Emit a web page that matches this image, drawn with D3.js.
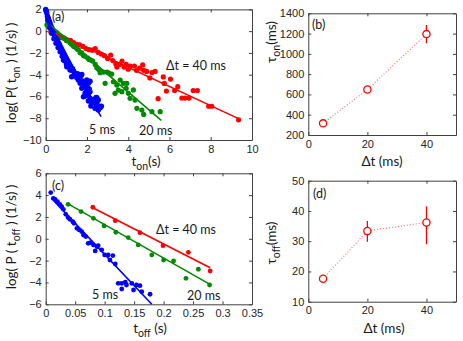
<!DOCTYPE html>
<html>
<head>
<meta charset="utf-8">
<script src="https://cdn.jsdelivr.net/npm/d3@7"></script>
<style>
  body { margin: 0; background: #fff; }
  svg { display: block; font-family: Lato, "Open Sans", sans-serif; }
  .tick text { font-size: 11px; fill: #262626; }
  .tick line, .domain { stroke: #404040; }
</style>
</head>
<body>
<div id="chart"></div>
<script>
// (a) log P(t_on) vs t_on (s)
var on5 = [[0,2],[0.02,1.85],[0.05,1.7],[0.08,1.4],[0.1,1.0],[0.13,1.2],[0.17,0.95],[0.2,0.3],[0.21,0.76],[0.25,0.5],
  [0.29,0.3],[0.3,-0.2],[0.33,0.05],[0.37,-0.15],[0.4,-0.7],[0.41,-0.3],[0.45,-0.46],[0.49,-0.6],[0.5,-1.1],[0.53,-0.76],
  [0.57,-0.9],[0.6,-1.5],[0.62,-1.07],[0.66,-1.2],[0.7,-1.38],[0.7,-1.9],[0.74,-1.55],[0.78,-1.68],[0.8,-2.3],[0.82,-1.85],
  [0.86,-1.99],[0.86,-2.65],[0.9,-2.15],[0.9,-2.7],[0.94,-2.29],[0.98,-2.45],[1.0,-3.0],[1.02,-2.6],[1.02,-3.27],[1.06,-2.75],
  [1.1,-2.9],[1.1,-3.3],[1.14,-3.05],[1.18,-3.21],[1.18,-3.57],[1.22,-3.35],[1.26,-3.58],[1.26,-4.19],[1.3,-3.45],[1.35,-3.67],
  [1.39,-3.85],[1.42,-4.03],[1.47,-4.1],[1.51,-4.28],[1.55,-3.9],[1.58,-4.49],[1.63,-4.3],[1.67,-4.43],[1.67,-4.79],[1.71,-4.1],
  [1.75,-3.98],[1.75,-5.25],[1.79,-4.6],[1.83,-4.65],[1.83,-6.02],[1.87,-5.0],[1.91,-4.89],[1.91,-5.71],[1.91,-5.96],[1.95,-5.1],
  [1.99,-4.49],[1.99,-5.41],[2.03,-4.6],[2.03,-5.2],[2.07,-4.79],[2.07,-5.5],[2.07,-5.87],[2.07,-6.42],[2.11,-5.3],[2.15,-4.6],
  [2.15,-5.56],[2.15,-6.17],[2.19,-6.88],[2.23,-6.63],[2.32,-6.27],[2.39,-6.48],[2.39,-7.09],[2.44,-6.1],[2.48,-6.12],[2.48,-6.57],
  [2.48,-6.94],[2.55,-6.33],[2.55,-7.25],[2.56,-6.88],[2.64,-7.03],[2.7,-6.9]];
var on20 = [[0.06,0.57],[0.1,0.6],[0.15,0.45],[0.21,0.61],[0.26,0.2],[0.3,0.3],[0.37,0],[0.42,-0.05],[0.5,-0.2],[0.55,-0.15],
  [0.62,-0.31],[0.7,-0.4],[0.78,-0.52],[0.85,-0.6],[0.94,-0.7],[1.0,-0.85],[1.08,-0.9],[1.18,-1.07],[1.25,-1.2],[1.35,-1.38],
  [1.42,-1.45],[1.51,-1.62],[1.58,-1.7],[1.67,-1.99],[1.75,-2.0],[1.83,-2.23],[1.9,-2.3],[2.03,-2.45],[2.1,-2.6],[2.19,-2.66],
  [2.28,-2.75],[2.4,-3.06],[2.48,-3.36],[2.56,-3.5],[2.64,-3.67],[2.64,-3.82],[2.8,-3.76],[2.88,-4.79],[2.97,-3.76],[3.05,-3.82],
  [3.2,-3.94],[3.28,-4.65],[3.36,-5.71],[3.45,-4.95],[3.52,-5.41],[3.61,-4.49],[3.69,-5.56],[3.77,-4.79],[3.9,-5.25],[3.93,-4.79],
  [4.01,-5.71],[4.09,-6.17],[4.25,-5.4],[4.33,-6.33],[4.42,-7.09],[4.66,-7.25],[4.75,-7.65],[5.15,-7.4],[5.55,-7.4]];
var on40 = [[0.25,-0.1],[0.3,-0.2],[0.45,-0.35],[0.6,-0.5],[0.75,-0.6],[0.9,-0.65],[1.05,-0.8],[1.2,-0.85],[1.35,-1.05],[1.5,-1.2],
  [1.65,-1.25],[1.8,-1.4],[1.95,-1.6],[2.1,-1.7],[2.25,-1.75],[2.4,-1.6],[2.55,-1.95],[2.7,-2.1],[2.85,-2.25],[3.0,-2.5],
  [3.15,-2.2],[3.25,-2.7],[3.4,-3.0],[3.45,-3.3],[3.6,-3.05],[3.7,-2.75],[3.8,-3.3],[3.9,-3.05],[4.0,-3.5],[4.1,-3.2],
  [4.3,-3.2],[4.4,-3.6],[4.55,-3.4],[4.7,-3.1],[4.75,-3.6],[4.9,-3.7],[5.05,-4.3],[5.15,-3.8],[5.3,-3.7],[5.45,-6.2],
  [5.7,-4.2],[5.75,-4.8],[5.85,-5.5],[6.05,-4.4],[6.25,-5.45],[6.4,-5.1],[6.6,-6.15],[6.75,-6.15],[6.95,-6.15],[7.15,-5.45],
  [7.35,-5.45],[7.9,-6.9],[8.05,-6.9],[9.35,-8.15]];
var fitOn5 = [[0,1.25],[2.68,-7.86]];
var fitOn20 = [[0.2,0.6],[5.6,-8.2]];
var fitOn40 = [[0.45,-0.2],[9.4,-8.08]];

// (c) log P(t_off) vs t_off (s)
var off5 = [[0.0085,4.23],[0.013,3.71],[0.016,3.62],[0.02,3.4],[0.024,3.16],[0.027,2.95],[0.03,2.7],[0.034,2.24],[0.038,1.94],
  [0.041,1.79],[0.046,1.57],[0.048,1.42],[0.053,0.96],[0.057,0.81],[0.061,0.66],[0.064,0.35],[0.068,0.2],[0.072,-0.41],
  [0.076,-0.35],[0.081,-0.56],[0.084,-1.11],[0.087,-0.72],[0.089,-0.63],[0.095,-1.02],[0.1,-1.48],[0.106,-1.48],[0.109,-1.94],
  [0.114,-1.54],[0.118,-2.31],[0.123,-4.08],[0.129,-4.08],[0.129,-4.6],[0.135,-3.98],[0.137,-4.23],[0.146,-4.08],[0.149,-4.69],
  [0.154,-4.23],[0.16,-4.29],[0.163,-4.84],[0.177,-5.08]];
var off20 = [[0.038,3.16],[0.06,2.49],[0.081,1.88],[0.099,1.18],[0.119,0.6],[0.14,0.11],[0.157,-0.56],[0.18,-1.48],
  [0.2,-1.94],[0.217,-2.03],[0.238,-3.62],[0.259,-2.79],[0.278,-4.23]];
var off40 = [[0.08,2.89],[0.118,1.66],[0.16,0.56],[0.199,-0.63],[0.242,-1.24],[0.279,-2.95]];
var fitOff5 = [[0.01,3.7],[0.18,-6.0]];
var fitOff20 = [[0.038,3.2],[0.278,-4.15]];
var fitOff40 = [[0.08,2.85],[0.279,-2.65]];

// (b), (d) time constants vs Δt (ms)
var dtValues = [5, 20, 40];
var tauOn = [315, 648, 1195];
var tauOnLo = [300, 630, 1105];
var tauOnHi = [330, 666, 1285];
var tauOff = [17.6, 33.4, 36.2];
var tauOffLo = [17.2, 29.8, 29.0];
var tauOffHi = [18.0, 36.7, 41.5];

var ticksA_x = [0, 2, 4, 6, 8, 10];
var ticksA_y = [-10, -8, -6, -4, -2, 0, 2];
var ticksC_x = [0, 0.05, 0.1, 0.15, 0.2, 0.25, 0.3, 0.35];
var ticksC_y = [-6, -4, -2, 0, 2, 4, 6];
var ticksB_y = [200, 400, 600, 800, 1000, 1200, 1400];
var ticksD_y = [10, 20, 30, 40, 50];
var ticksBD_x = [0, 20, 40];

var width = 463, height = 341;
var BLUE = '#0000ff', GREEN = '#008a00', RED = '#ff0000';

var svg = d3.select('#chart').append('svg')
    .attr('width', width)
    .attr('height', height);

function frame(x, y, xt, yt, xfmt, yfmt) {
    var g = svg.append('g');
    var r = x.range(), b = y.range();
    g.append('g').attr('transform', 'translate(0,' + b[0] + ')')
        .call(d3.axisBottom(x).tickValues(xt).tickSizeInner(-3).tickSizeOuter(0).tickPadding(5).tickFormat(xfmt));
    g.append('g').attr('transform', 'translate(0,' + b[1] + ')')
        .call(d3.axisTop(x).tickValues(xt).tickSizeInner(-3).tickSizeOuter(0).tickFormat(''));
    g.append('g').attr('transform', 'translate(' + r[0] + ',0)')
        .call(d3.axisLeft(y).tickValues(yt).tickSizeInner(-3).tickSizeOuter(0).tickPadding(4).tickFormat(yfmt));
    g.append('g').attr('transform', 'translate(' + r[1] + ',0)')
        .call(d3.axisRight(y).tickValues(yt).tickSizeInner(-3).tickSizeOuter(0).tickFormat(''));
    g.selectAll('.tick text').attr('font-family', null);
    return g;
}

function scatter(x, y, pts, color, rad) {
    svg.append('g').selectAll('circle')
        .data(pts).enter().append('circle')
        .attr('cx', function(d) { return x(d[0]); })
        .attr('cy', function(d) { return y(d[1]); })
        .attr('r', rad)
        .attr('fill', color);
}

function fit(x, y, pts, color) {
    svg.append('path')
        .datum(pts)
        .attr('d', d3.line().x(function(d) { return x(d[0]); }).y(function(d) { return y(d[1]); }))
        .attr('stroke', color)
        .attr('stroke-width', 1.6)
        .attr('fill', 'none');
}

function note(px, py, txt, size, anchor) {
    return svg.append('text')
        .attr('x', px).attr('y', py)
        .attr('font-size', size)
        .attr('text-anchor', anchor || 'start')
        .attr('fill', '#1a1a1a')
        .text(txt);
}

// label with subscript: parts = [[text, isSub], ...]
function subLabel(px, py, parts, size, rotate) {
    var t = svg.append('text')
        .attr('font-size', size)
        .attr('fill', '#1a1a1a')
        .attr('text-anchor', 'middle')
        .attr('transform', 'translate(' + px + ',' + py + ')' + (rotate ? ' rotate(-90)' : ''));
    var prev = false;
    parts.forEach(function(p) {
        var s = t.append('tspan').text(p[0]);
        if (p[1] && !prev) s.attr('dy', 4).attr('font-size', size * 0.78);
        if (!p[1] && prev) s.attr('dy', -4);
        prev = p[1];
    });
    return t;
}

var fmtC = function(d) { return d === 0 ? '0' : d3.format('.2~f')(d); };

// ---------- (a)
var xA = d3.scaleLinear().domain([0, 10]).range([45.7, 252]);
var yA = d3.scaleLinear().domain([-10, 2]).range([140, 9.4]);
frame(xA, yA, ticksA_x, ticksA_y, d3.format('d'), d3.format('d'));
scatter(xA, yA, on40, RED, 2.6);
scatter(xA, yA, on20, GREEN, 2.6);
scatter(xA, yA, on5, BLUE, 2.7);
fit(xA, yA, fitOn40, RED);
fit(xA, yA, fitOn20, GREEN);
fit(xA, yA, fitOn5, BLUE);
note(52, 21, '(a)', 12.5);
note(166, 70, '\u0394t = 40 ms', 12.5);
note(89, 134, '5 ms', 12.5);
note(139, 135, '20 ms', 12.5);
subLabel(146, 166, [['t', false], ['on', true], ['(s)', false]], 13.5, false);
subLabel(16, 73, [['log( P( t', false], ['on', true], [' ) (1/s) )', false]], 13.5, true);

// ---------- (b)
var xB = d3.scaleLinear().domain([0, 50]).range([308.3, 456]);
var yB = d3.scaleLinear().domain([200, 1400]).range([135, 13.3]);
frame(xB, yB, ticksBD_x, ticksB_y, d3.format('d'), d3.format('d'));

function tauPanel(x, y, vals, lo, hi) {
    var pts = dtValues.map(function(d, i) { return [d, vals[i], lo[i], hi[i]]; });
    svg.append('path').datum(pts)
        .attr('d', d3.line().x(function(d) { return x(d[0]); }).y(function(d) { return y(d[1]); }))
        .attr('stroke', '#ff7070').attr('stroke-width', 1.2)
        .attr('stroke-dasharray', '1,2').attr('fill', 'none');
    var g = svg.append('g').selectAll('g').data(pts).enter().append('g');
    g.append('line')
        .attr('x1', function(d) { return x(d[0]); }).attr('x2', function(d) { return x(d[0]); })
        .attr('y1', function(d) { return y(d[2]); }).attr('y2', function(d) { return y(d[3]); })
        .attr('stroke', RED).attr('stroke-width', 1.3);
    g.append('circle')
        .attr('cx', function(d) { return x(d[0]); })
        .attr('cy', function(d) { return y(d[1]); })
        .attr('r', 3.6)
        .attr('fill', '#fff').attr('stroke', RED).attr('stroke-width', 1.3);
}
tauPanel(xB, yB, tauOn, tauOnLo, tauOnHi);
note(312, 29, '(b)', 12.5);
subLabel(382, 166, [['\u0394t (ms)', false]], 13.5, false);
subLabel(276, 42, [['\u03c4', false], ['on', true], ['(ms)', false]], 13.5, true);

// ---------- (c)
var xC = d3.scaleLinear().domain([0, 0.35]).range([45.7, 252]);
var yC = d3.scaleLinear().domain([-6, 6]).range([304.3, 173.3]);
frame(xC, yC, ticksC_x, ticksC_y, fmtC, d3.format('d'));
scatter(xC, yC, off5, BLUE, 2.4);
scatter(xC, yC, off20, GREEN, 2.4);
scatter(xC, yC, off40, RED, 2.4);
fit(xC, yC, fitOff5, BLUE);
fit(xC, yC, fitOff20, GREEN);
fit(xC, yC, fitOff40, RED);
note(52, 190, '(c)', 12.5);
note(156, 234, '\u0394t = 40 ms', 12.5);
note(92, 299, '5 ms', 12.5);
note(187, 300, '20 ms', 12.5);
subLabel(150, 333, [['t', false], ['off', true], [' (s)', false]], 13.5, false);
subLabel(16, 237, [['log( P ( t', false], ['off', true], [' ) (1/s) )', false]], 13.5, true);

// ---------- (d)
var xD = d3.scaleLinear().domain([0, 50]).range([308.3, 456]);
var yD = d3.scaleLinear().domain([10, 50]).range([301.7, 180.7]);
frame(xD, yD, ticksBD_x, ticksD_y, d3.format('d'), d3.format('d'));
tauPanel(xD, yD, tauOff, tauOffLo, tauOffHi);
note(313, 198, '(d)', 12.5);
subLabel(384, 333, [['\u0394t (ms)', false]], 13.5, false);
subLabel(276, 243, [['\u03c4', false], ['off', true], ['(ms)', false]], 13.5, true);
</script>
</body>
</html>
